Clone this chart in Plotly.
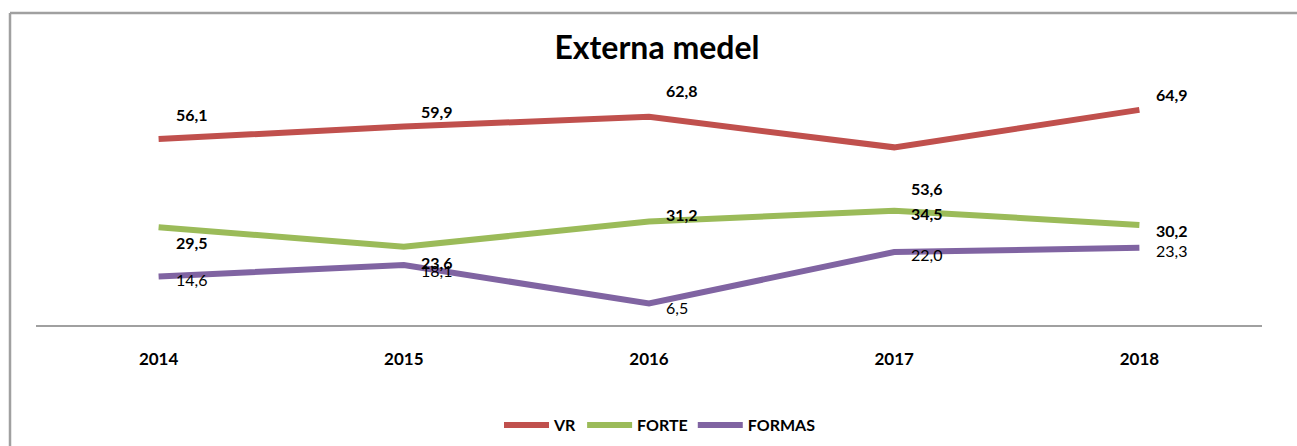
import plotly.graph_objects as go

years = ["2014", "2015", "2016", "2017", "2018"]
vr = [56.1, 59.9, 62.8, 53.6, 64.9]
forte = [29.5, 23.6, 31.2, 34.5, 30.2]
formas = [14.6, 18.1, 6.5, 22.0, 23.3]

# label pixel offsets (style only)
vr_dy = [25, 15, 26, -41, 15]
forte_dy = [-15, -16, 7, -3, -6]
formas_dy = [-3, -5, -4, -2, -3]

FONT = "Lato"
series = [
    ("VR", vr, "#C0504D", vr_dy, True),
    ("FORTE", forte, "#9BBB59", forte_dy, True),
    ("FORMAS", formas, "#8064A2", formas_dy, False),
]

fig = go.Figure()
annotations = []
for name, vals, color, dys, bold in series:
    fig.add_trace(go.Scatter(
        x=years, y=vals, mode="lines", name=f"<b>{name}</b>",
        line=dict(color=color, width=6),
        hoverinfo="skip",
    ))
    for i, (v, dy) in enumerate(zip(vals, dys)):
        txt = f"{v:.1f}".replace(".", ",")
        annotations.append(dict(
            x=i, y=v, xref="x", yref="y",
            text=f"<b>{txt}</b>" if bold else txt,
            showarrow=False, xanchor="left", yanchor="middle",
            xshift=15, yshift=dy,
            font=dict(family=FONT, size=16, color="#000000"),
        ))

fig.update_layout(
    width=1297, height=446,
    margin=dict(l=36, r=35, t=93, b=121, autoexpand=False),
    paper_bgcolor="white", plot_bgcolor="white",
    title=dict(text="<b>Externa medel</b>", x=657 / 1297, xanchor="center",
               xref="container",
               y=1 - 48 / 446, yanchor="middle", yref="container",
               font=dict(family=FONT, size=32, color="#000000")),
    showlegend=True,
    legend=dict(orientation="h", x=660 / 1297, xanchor="center", xref="container",
                y=1 - 425 / 446, yanchor="middle", yref="container",
                font=dict(family=FONT, size=16, color="#000000"),
                itemwidth=45),
    separators=",.",
    shapes=[
        dict(type="line", xref="paper", yref="paper",
             x0=(10 - 36) / 1226, x1=(1300 - 36) / 1226,
             y0=(325 - 13) / 232, y1=(325 - 13) / 232,
             line=dict(color="#A0A0A0", width=2.5)),
        dict(type="line", xref="paper", yref="paper",
             x0=(10 - 36) / 1226, x1=(10 - 36) / 1226,
             y0=(325 - 13) / 232, y1=(325 - 450) / 232,
             line=dict(color="#A0A0A0", width=2.5)),
    ],
)
for a in annotations:
    fig.add_annotation(**a)

fig.update_xaxes(type="category", range=[-0.5, 4.5], showline=True,
                 linecolor="#A0A0A0", linewidth=2, showgrid=False, zeroline=False,
                 ticks="", ticklabelstandoff=18, automargin=False,
                 tickfont=dict(family=FONT, size=17, color="#000000"),
                 tickprefix="<b>", ticksuffix="</b>")
fig.update_yaxes(range=[0, 70], visible=False, showgrid=False, zeroline=False)

fig.write_html("out.html", config={"displayModeBar": False},
               post_script="document.body.style.margin='0';")
